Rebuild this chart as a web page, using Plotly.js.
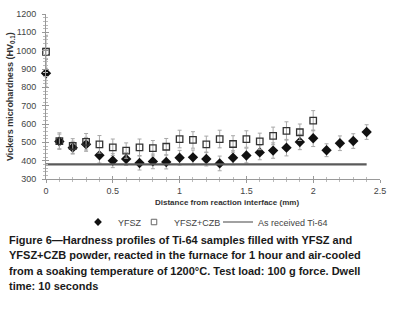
<!DOCTYPE html>
<html>
<head>
<meta charset="utf-8">
<script src="https://cdn.plot.ly/plotly-3.0.1.min.js"></script>
<style>html,body{margin:0;padding:0;background:#fff;}#chart{width:393px;height:312px;}</style>
</head>
<body>
<div id="chart"></div>
<script>
const yfszX = [0,0.1,0.2,0.3,0.4,0.5,0.6,0.7,0.8,0.9,1.0,1.1,1.2,1.3,1.4,1.5,1.6,1.7,1.8,1.9,2.0,2.1,2.2,2.3,2.4];
const yfszY = [877,505,471,489,429,400,409,387,396,393,416,418,409,385,416,428,445,455,471,502,522,457,495,507,556];
const yfszErr = [75,40,35,38,42,38,35,38,40,38,40,40,38,40,38,40,40,42,45,42,45,35,40,40,40];
const czbX = [0,0.1,0.2,0.3,0.4,0.5,0.6,0.7,0.8,0.9,1.0,1.1,1.2,1.3,1.4,1.5,1.6,1.7,1.8,1.9,2.0];
const czbY = [994,507,480,503,489,473,455,473,468,476,518,513,489,518,491,518,505,535,562,555,618];
const czbErr = [90,45,40,45,48,45,42,45,42,45,48,45,45,48,45,45,45,48,50,45,55];
const tiX = [0,2.4];
const tiY = [380,380];
const seriesNames = ['YFSZ', 'YFSZ+CZB', 'As received Ti-64'];
const captionLines = [
  "Figure 6\u2014Hardness profiles of Ti-64 samples filled with YFSZ and",
  "YFSZ+CZB powder, reacted in the furnace for 1 hour and air-cooled",
  "from a soaking temperature of 1200\u00B0C. Test load: 100 g force. Dwell",
  "time: 10 seconds"
];

const W = 393, H = 312;
const L = 46, R = 13, T = 14, B = 133;
const pw = W - L - R, ph = H - T - B;
const px2x = p => (p - L) / pw;
const py2y = p => (H - B - p) / ph;
const FAM = 'Liberation Sans, Arial, sans-serif';

const traces = [
  {x: yfszX, y: yfszY, name: seriesNames[0], type: 'scatter', mode: 'markers', cliponaxis: false,
   showlegend: false,
   marker: {symbol: 'diamond', size: 8, color: '#111'},
   error_y: {type: 'data', array: yfszErr, visible: true, color: '#a8a8a8', thickness: 1, width: 2}},
  {x: czbX, y: czbY, name: seriesNames[1], type: 'scatter', mode: 'markers', cliponaxis: false,
   showlegend: false,
   marker: {symbol: 'square-open', size: 6.5, color: '#333', line: {width: 1.3, color: '#333'}},
   error_y: {type: 'data', array: czbErr, visible: true, color: '#a8a8a8', thickness: 1, width: 2}},
  {x: tiX, y: tiY, name: seriesNames[2], type: 'scatter', mode: 'lines', showlegend: false,
   line: {color: '#5a5a5a', width: 2.2}},
  // legend entries (no data, only legend symbols)
  {x: [null], y: [null], name: seriesNames[0], type: 'scatter', mode: 'markers', legend: 'legend',
   marker: {symbol: 'diamond', size: 6, color: '#111'}},
  {x: [null], y: [null], name: seriesNames[1], type: 'scatter', mode: 'markers', legend: 'legend2',
   marker: {symbol: 'square-open', size: 5.5, color: '#666', line: {width: 1, color: '#666'}}},
  {x: [null], y: [null], name: seriesNames[2], type: 'scatter', mode: 'lines', legend: 'legend3',
   line: {color: '#444', width: 1.2}},
  {x: [0], y: [300], xaxis: 'x2', yaxis: 'y2', showlegend: false, hoverinfo: 'skip',
   mode: 'markers', marker: {opacity: 0}}
];

const annotations = [
  {text: '<b>Distance from reaction interface (mm)</b>', xref: 'paper', yref: 'paper',
   x: px2x(227), y: py2y(202), xanchor: 'center', yanchor: 'middle', showarrow: false,
   font: {size: 8, color: '#333', family: FAM}},
  {text: '<b>Vickers microhardness (HV<sub>0.1</sub>)</b>', xref: 'paper', yref: 'paper',
   x: px2x(10), y: py2y(97), xanchor: 'center', yanchor: 'middle', showarrow: false, textangle: -90,
   font: {size: 9, color: '#333', family: FAM}}
];
captionLines.forEach((t, i) => {
  annotations.push({text: '<b>' + t + '</b>', xref: 'paper', yref: 'paper',
    x: px2x(7), y: py2y(240 + i * 15.3), xanchor: 'left', yanchor: 'middle', showarrow: false,
    font: {size: 11, color: '#1a1a1a', family: FAM}});
});

const legFont = {size: 9, color: '#444', family: FAM};
const legBase = {orientation: 'h', xanchor: 'left', yanchor: 'middle', font: legFont,
  itemwidth: 30, bgcolor: 'rgba(0,0,0,0)', borderwidth: 0, y: py2y(222)};

const axFont = {size: 9, color: '#444', family: FAM};
const layout = {
  width: W, height: H,
  margin: {l: L, r: R, t: T, b: B},
  paper_bgcolor: '#fff', plot_bgcolor: '#fff',
  showlegend: true,
  legend: Object.assign({}, legBase, {x: px2x(78)}),
  legend2: Object.assign({}, legBase, {x: px2x(134)}),
  legend3: Object.assign({}, legBase, {x: px2x(218)}),
  xaxis: {range: [0, 2.5], dtick: 0.5, tick0: 0, showgrid: false, zeroline: false,
    showline: true, linecolor: '#999', linewidth: 1, ticks: 'outside', ticklen: 3, tickcolor: '#999',
    minor: {dtick: 0.1, ticks: 'outside', ticklen: 2, tickcolor: '#bbb'},
    tickfont: axFont, anchor: 'y'},
  yaxis: {range: [300, 1200], dtick: 100, showgrid: false, zeroline: false,
    showline: true, linecolor: '#999', linewidth: 1, ticks: 'outside', ticklen: 3, tickcolor: '#999',
    minor: {dtick: 20, ticks: 'outside', ticklen: 2, tickcolor: '#bbb'},
    tickfont: axFont, ticklabelstandoff: 4},
  xaxis2: {range: [0, 2.5], overlaying: 'x', anchor: 'y2', dtick: 0.5, showgrid: false, zeroline: false,
    showticklabels: false, ticks: 'inside', ticklen: 3, tickcolor: '#999', side: 'bottom',
    minor: {dtick: 0.1, ticks: 'inside', ticklen: 2, tickcolor: '#bbb'}},
  yaxis2: {range: [300, 1200], overlaying: 'y', anchor: 'x2', dtick: 100, showgrid: false, zeroline: false,
    showticklabels: false, ticks: 'inside', ticklen: 3, tickcolor: '#999', side: 'left',
    minor: {dtick: 20, ticks: 'inside', ticklen: 2, tickcolor: '#bbb'}},
  annotations: annotations
};

Plotly.newPlot('chart', traces, layout, {displayModeBar: false, staticPlot: true});
</script>
</body>
</html>
